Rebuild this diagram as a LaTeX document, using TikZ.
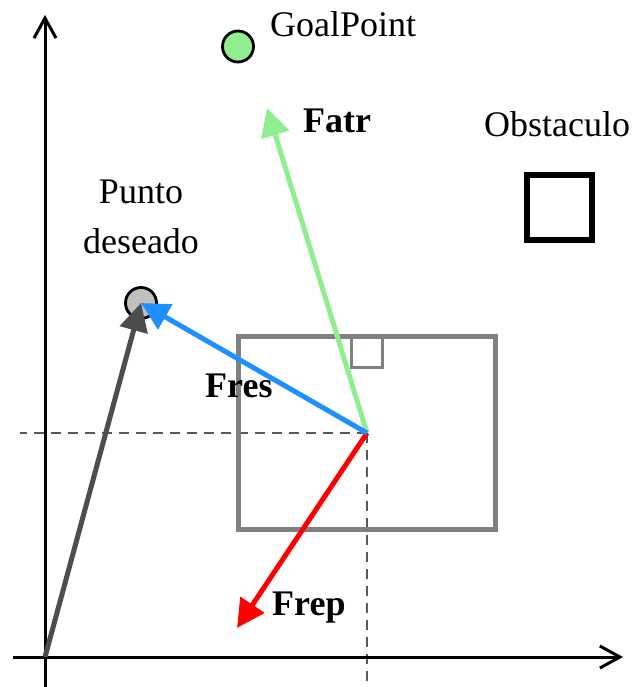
\documentclass[tikz,border=0pt]{standalone}
\usepackage{fontspec}
\setmainfont{Liberation Serif}
\usetikzlibrary{arrows.meta}
\definecolor{atrgreen}{RGB}{144,238,144}
\definecolor{resblue}{RGB}{30,144,255}
\definecolor{robotgray}{RGB}{128,128,128}
\definecolor{desgray}{RGB}{77,77,77}
\definecolor{silvergray}{RGB}{192,192,192}
\begin{document}
\begin{tikzpicture}[x=1pt,y=-1pt,font=\fontsize{36}{50}\selectfont,
  axisline/.style={line width=3pt,-{Straight Barb[length=20pt,width=22pt]}},
  force/.style={line width=5pt,-{Triangle[length=28pt,width=28pt]}},
  forcename/.style={inner sep=0pt,anchor=base west,font=\fontsize{36}{50}\selectfont\bfseries},
  plain/.style={inner sep=0pt,anchor=base west},
  guide/.style={line width=1.3pt,draw=black!65,dash pattern=on 10pt off 7pt},
  spot/.style={circle,draw,line width=2.8pt,inner sep=0pt,minimum size=31pt}]
\useasboundingbox (0,0) rectangle (638,687);
% points
\coordinate (O) at (45,657);
\coordinate (ytop) at (45,15);
\coordinate (ybot) at (45,687);
\coordinate (xleft) at (13,657);
\coordinate (xright) at (623,657);
\coordinate (robot) at (367,433);
\coordinate (hleft) at (20,433);
\coordinate (vbot) at (367,687);
\coordinate (fatr) at (267,108);
\coordinate (frep) at (237,628);
% guides
\draw[guide] (robot) -- (hleft);
\draw[guide] (robot) -- (vbot);
% axes
\draw[axisline] (ybot) -- (ytop);
\draw[axisline] (xleft) -- (xright);
% robot
\node[draw=robotgray,line width=4.5pt,minimum width=257pt,minimum height=193pt,inner sep=0pt] (body) at (robot) {};
\node[draw=robotgray,line width=3pt,minimum width=31pt,minimum height=32pt,inner sep=0pt,anchor=north] (sensor) at (body.north) {};
% obstacle
\node[draw,line width=5.5pt,minimum size=65pt,inner sep=0pt] (obst) at (559.5,207.5) {};
\node[plain] (obsttxt) at (484,137) {Obstaculo};
% goal and desired point
\node[spot,fill=atrgreen] (goal) at (238,46.5) {};
\node[plain] (goaltxt) at (270,37) {GoalPoint};
\node[spot,fill=silvergray] (des) at (141,303) {};
\node[inner sep=0pt,align=center,anchor=base] (destxt) at (141,253) {Punto\\deseado};
% forces
\draw[force,desgray] (O) -- (des.center);
\draw[force,atrgreen] (robot) -- (fatr);
\draw[force,red] (robot) -- (frep);
\draw[force,resblue] (robot) -- (des.center);
\node[forcename] (fatrtxt) at (303,133) {Fatr};
\node[forcename] (frestxt) at (205,397) {Fres};
\node[forcename] (freptxt) at (272,615) {Frep};
\end{tikzpicture}
\end{document}
